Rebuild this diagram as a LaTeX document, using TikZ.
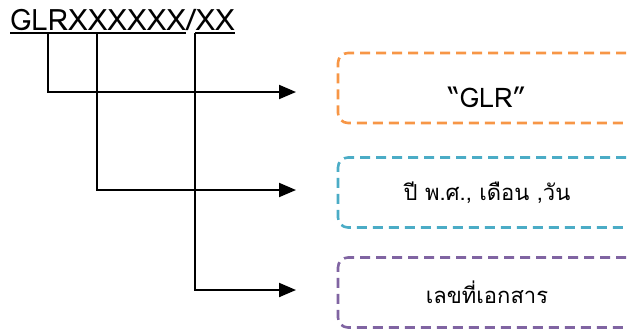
\documentclass[tikz,border=0pt]{standalone}
\usepackage{fontspec}
\setmainfont[Script=Thai]{Loma}
\usepackage{tikz}
\usetikzlibrary{arrows.meta,positioning,calc}

\definecolor{boxorange}{HTML}{F79646}
\definecolor{boxblue}{HTML}{4BACC6}
\definecolor{boxpurple}{HTML}{8064A2}

\tikzset{
  field/.style={draw=#1, dash pattern=on 10pt off 6pt, line width=2.6pt, rounded corners=10pt,
    minimum width=298pt, minimum height=70pt, inner sep=0pt, font=\fontsize{22}{26}\selectfont},
  codepart/.style={inner sep=0pt, font=\fontsize{29.5}{34}\selectfont},
  lead/.style={line width=2pt},
  pointer/.style={lead, -{Triangle[length=17pt,width=14pt]}},
}

\begin{document}
\begin{tikzpicture}[x=1pt,y=-1pt]
    \useasboundingbox (0,0) rectangle (628,330);
    \clip (0,0) rectangle (628,330);

    % the code and its underlines
    \node[codepart, anchor=base west] (prefix) at (10,30.5) {GLRXXXXXX};
    \node[codepart, anchor=base west] (slash) at (prefix.base east) {/};
    \node[codepart, anchor=base west] (suffix) at (slash.base east) {XX};
    \draw[lead] ($(prefix.base west)+(0,2.5)$) -- ($(prefix.base east)+(0,2.5)$);
    \draw[lead] ($(suffix.base west)+(0,2.5)$) -- ($(suffix.base east)+(0,2.5)$);

    % the three fields
    \node[field=boxorange] (glr) at (487,88) {\fontsize{27}{30}\selectfont\raisebox{-19pt}[0pt][0pt]{“GLR”}};
    \node[field=boxblue] (date) at (487,192.5) {ปี พ.ศ., เดือน ,วัน};
    \node[field=boxpurple] (docno) at (487,292.5) {เลขที่เอกสาร};

    \coordinate (t1) at (48,33);
    \coordinate (t2) at (97,33);
    \coordinate (t3) at (195,33);
    \coordinate (e1) at (296,92);
    \coordinate (e2) at (296,190);
    \coordinate (e3) at (296,290);

    \draw[pointer] (t1) |- (e1);
    \draw[pointer] (t2) |- (e2);
    \draw[pointer] (t3) |- (e3);
\end{tikzpicture}
\end{document}
